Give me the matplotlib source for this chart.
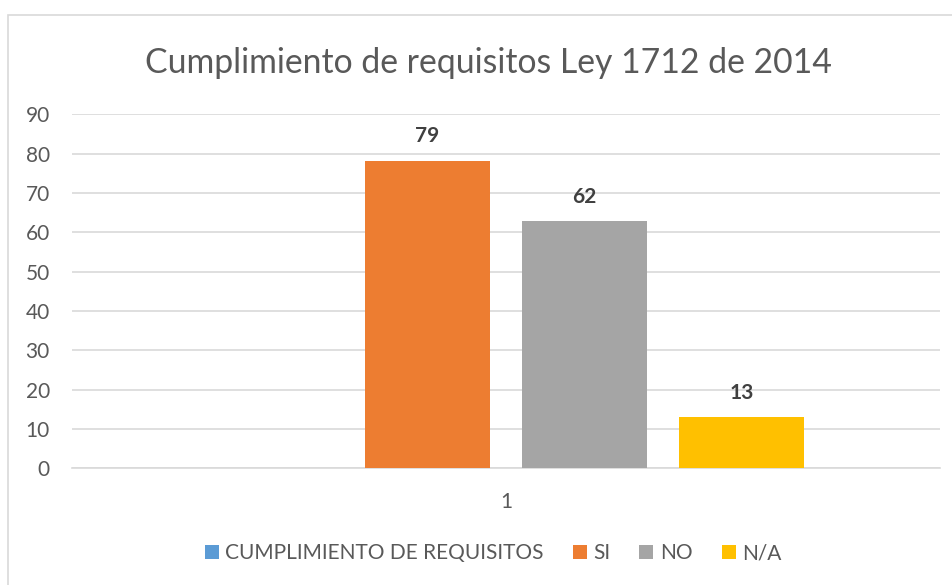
import matplotlib
matplotlib.use("Agg")
import matplotlib.pyplot as plt
from matplotlib.patches import Rectangle

# data
series = ["CUMPLIMIENTO DE REQUISITOS", "SI", "NO", "N/A"]
heights = [0, 78.2, 62.9, 13]
labels = ["", "79", "62", "13"]
colors = ["#5b9bd5", "#ed7d31", "#a5a5a5", "#ffc000"]
category = ["1"]
yticks = [0, 10, 20, 30, 40, 50, 60, 70, 80, 90]

txt = "#595959"
plt.rcParams["font.family"] = ["Lato", "DejaVu Sans"]

fig = plt.figure(figsize=(9.53, 5.85), dpi=100)
ax = fig.add_axes([72 / 953, 1 - 468.3 / 585, 868 / 953, (468.3 - 114.3) / 585])

# outer chart border (cropped at right/bottom)
fig.patches.append(Rectangle((8 / 953, -0.1), 1.2, 1.1 - 15 / 585, transform=fig.transFigure,
                             fill=False, edgecolor="#d9d9d9", linewidth=1.2, zorder=0))

step = 0.181
width = 0.144
for i, name in enumerate(series):
    x = (i - 1.5) * step
    ax.bar(x, heights[i], width=width, color=colors[i], label=name, zorder=3)
    if labels[i]:
        ax.annotate(labels[i], (x, heights[i]), xytext=(0, 17.5), textcoords="offset points",
                    ha="center", va="center", fontsize=15, fontweight="bold", color="#404040")

ax.set_xlim(-0.5, 0.5)
ax.set_ylim(0, 90)
ax.set_yticks(yticks)
ax.set_xticks([0])
ax.set_xticklabels(category)
ax.yaxis.grid(True, color="#d9d9d9", linewidth=1.2, zorder=0)
for s in ["top", "right", "left"]:
    ax.spines[s].set_visible(False)
ax.spines["bottom"].set_color("#d9d9d9")
ax.spines["bottom"].set_linewidth(1.2)
ax.tick_params(axis="both", length=0, labelsize=15, labelcolor=txt)
ax.tick_params(axis="y", pad=16)
ax.tick_params(axis="x", pad=17)

fig.text(488 / 953, 1 - 73 / 585, "Cumplimiento de requisitos Ley 1712 de 2014",
         ha="center", va="baseline", fontsize=24.3, color=txt)

fig.legend(loc="center", bbox_to_anchor=(493 / 953, 1 - 553 / 585), ncol=4, frameon=False,
           fontsize=15, labelcolor=txt, handlelength=0.67, handleheight=0.67,
           handletextpad=0.31, columnspacing=1.4)

fig.savefig("out.png", dpi=100)
